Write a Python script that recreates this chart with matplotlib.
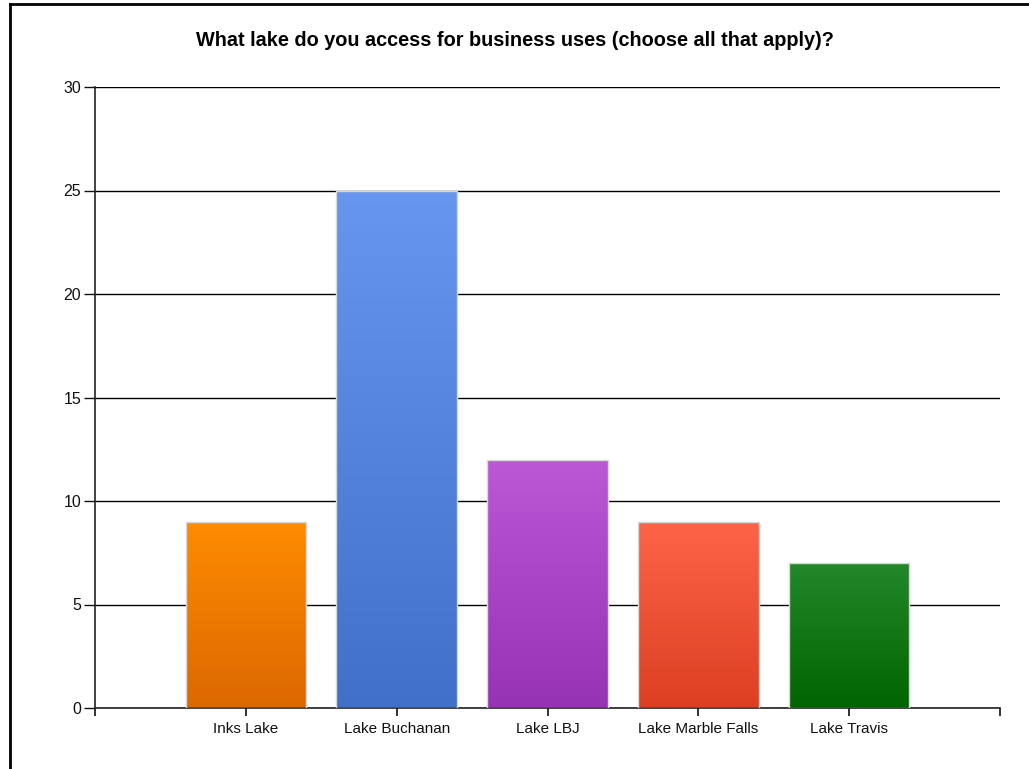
import numpy as np
import matplotlib
matplotlib.use("Agg")
import matplotlib.pyplot as plt
from matplotlib.colors import LinearSegmentedColormap
from matplotlib.lines import Line2D

plt.rcParams["font.family"] = ["Liberation Sans", "DejaVu Sans"]

# dados
lagos = ["Inks Lake", "Lake Buchanan", "Lake LBJ", "Lake Marble Falls", "Lake Travis"]
respostas = [9, 25, 12, 9, 7]
cor_topo = ["#FF8C00", "#6696EE", "#BC58D6", "#FF6448", "#23882A"]
cor_base = ["#DC6800", "#4070C8", "#9632B4", "#DC3F22", "#006400"]

fig = plt.figure(figsize=(10.29, 7.69), dpi=100)
ax = fig.add_axes([95 / 1029, 61 / 769, 905 / 1029, 621 / 769])

# moldura da figura (so topo e esquerda aparecem)
fig.add_artist(Line2D([9.5 / 1029, 9.5 / 1029], [0, 1 - 4 / 769], color="black", lw=2,
                      transform=fig.transFigure))
fig.add_artist(Line2D([9.5 / 1029, 1], [1 - 4 / 769, 1 - 4 / 769], color="black", lw=2,
                      transform=fig.transFigure))

x = np.arange(1, len(lagos) + 1)
barras = ax.bar(x, respostas, width=0.8, color="none", edgecolor="#d8d8d8",
                linewidth=1, zorder=3)

# preenchimento em degrade
grad = np.linspace(0, 1, 256).reshape(-1, 1)
for b, c0, c1 in zip(barras, cor_topo, cor_base):
    cmap = LinearSegmentedColormap.from_list("g", [c1, c0])
    x0, y0 = b.get_x(), b.get_y()
    im = ax.imshow(grad, cmap=cmap, aspect="auto", origin="lower",
                   extent=[x0, x0 + b.get_width(), y0, y0 + b.get_height()], zorder=2)
    im.set_clip_path(b)

ax.set_xlim(0, 6)
ax.set_ylim(0, 30)
ax.set_yticks(range(0, 31, 5))
ax.set_xticks([0] + list(x) + [6])
ax.set_xticklabels([""] + lagos + [""])
ax.grid(True, axis="y", color="black", linewidth=1, zorder=1)
ax.set_axisbelow(True)

for s in ["top", "right"]:
    ax.spines[s].set_visible(False)
for s in ["left", "bottom"]:
    ax.spines[s].set_color("#222222")
    ax.spines[s].set_linewidth(1.2)

ax.tick_params(axis="y", length=8, width=1, labelsize=11.5, colors="#111111", pad=2)
ax.tick_params(axis="x", length=6, width=1.2, labelsize=11, colors="#111111", pad=4)

fig.text(515 / 1029, 1 - 40 / 769, "What lake do you access for business uses (choose all that apply)?",
         ha="center", va="center", fontsize=14.3, fontweight="bold")

plt.savefig("out.png", dpi=100)
